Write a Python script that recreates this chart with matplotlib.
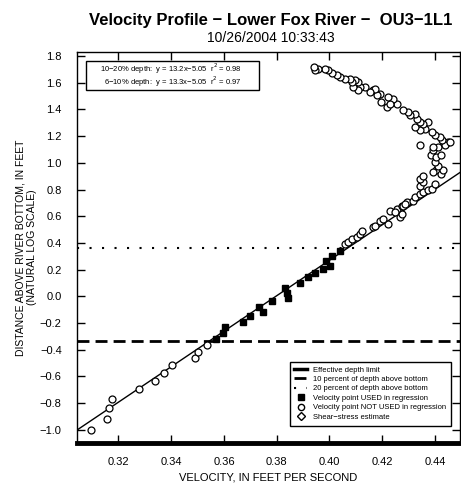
import numpy as np
import matplotlib
matplotlib.use("Agg")
import matplotlib.pyplot as plt
from matplotlib.lines import Line2D
from matplotlib.patches import Rectangle

plt.rcParams['font.family'] = ['Liberation Sans', 'DejaVu Sans']

# velocity points used in the regression (filled squares)
used_v = [0.3569, 0.3598, 0.3604, 0.3671, 0.3699, 0.3731, 0.3749, 0.3784, 0.3832,
          0.3844, 0.3838, 0.3889, 0.3920, 0.3945, 0.3977, 0.3987, 0.4009, 0.4002, 0.4040]
used_y = [-0.318, -0.273, -0.230, -0.190, -0.150, -0.080, -0.115, -0.035, 0.061,
          -0.010, 0.025, 0.103, 0.146, 0.174, 0.204, 0.266, 0.304, 0.229, 0.341]

# velocity points not used in the regression (open circles)
notused_v = [0.3096, 0.3155, 0.3166, 0.3177, 0.3277, 0.3339, 0.3374, 0.3402, 0.3491, 0.3501, 0.3536,
             0.4059, 0.4072, 0.4084, 0.4103, 0.4116, 0.4122, 0.4166, 0.4173, 0.4223, 0.4192, 0.4204,
             0.4267, 0.4274, 0.4230, 0.4255, 0.4274, 0.4293, 0.4250, 0.4280, 0.4286, 0.4318, 0.4324,
             0.4343, 0.4356, 0.4375, 0.4387, 0.4400, 0.4343, 0.4356, 0.4343, 0.4356, 0.4405, 0.4392,
             0.4424, 0.4431, 0.4412, 0.4400, 0.4386, 0.4405, 0.4424, 0.4392, 0.4411, 0.4438, 0.4450,
             0.4343, 0.4392, 0.4438, 0.4457, 0.4425, 0.4419, 0.4400, 0.4387, 0.4362, 0.4343, 0.4324,
             0.4375, 0.4356, 0.4343, 0.4331, 0.4324, 0.4305, 0.4299, 0.4280, 0.4255, 0.4217, 0.4242,
             0.4230, 0.4223, 0.4196, 0.4190, 0.4166,
             0.4179, 0.4173, 0.4154, 0.4135, 0.4116, 0.4109, 0.4091, 0.4109, 0.4097, 0.4084, 0.4078,
             0.4059, 0.4040, 0.4028, 0.4009, 0.3996, 0.3983, 0.3958, 0.3945, 0.3940]
notused_y = [-1.004, -0.920, -0.841, -0.769, -0.698, -0.636, -0.576, -0.518, -0.466, -0.416, -0.363,
             0.392, 0.404, 0.429, 0.441, 0.467, 0.492, 0.517, 0.529, 0.542, 0.567, 0.580,
             0.592, 0.617, 0.642, 0.655, 0.680, 0.705, 0.629, 0.680, 0.692, 0.717, 0.742,
             0.768, 0.780, 0.793, 0.805, 0.843, 0.830, 0.855, 0.880, 0.905, 0.943, 0.930,
             0.918, 0.943, 0.980, 1.006, 1.056, 1.043, 1.056, 1.093, 1.118, 1.143, 1.156,
             1.131, 1.118, 1.131, 1.156, 1.168, 1.193, 1.206, 1.231, 1.256, 1.244, 1.268,
             1.306, 1.294, 1.306, 1.332, 1.369, 1.356, 1.381, 1.394, 1.444, 1.419, 1.482,
             1.444, 1.494, 1.456, 1.519, 1.544,
             1.507, 1.557, 1.532, 1.569, 1.569, 1.544, 1.569, 1.607, 1.620, 1.607, 1.632,
             1.632, 1.644, 1.657, 1.670, 1.695, 1.707, 1.707, 1.695, 1.720]

# regression fit drawn on the chart: (slope, intercept)
fit_line = (13.3, -5.05)

depth_10pct = -0.335
depth_20pct = 0.364
effective_depth = -1.10

xlim = (0.3043, 0.4495)
ylim = (effective_depth, 1.83)

fig = plt.figure(figsize=(4.61, 4.87), dpi=100)
ax = fig.add_axes([0.167, 0.0903, 0.831, 0.8027])

xs = np.array(xlim)
ax.plot(xs, fit_line[0] * xs + fit_line[1], color='black', lw=1)

ax.axhline(depth_10pct, color='black', lw=2, linestyle=(0, (4.3, 2.2)))
ax.axhline(depth_20pct, color='black', lw=1.5, linestyle=(0, (1, 5)))
ax.axhline(effective_depth, color='black', lw=3.5, clip_on=False)

ax.plot(notused_v, notused_y, 'o', mfc='white', mec='black', ms=5, mew=0.9, ls='none')
ax.plot(used_v, used_y, 's', color='black', ms=5, ls='none')

ax.set_xlim(xlim)
ax.set_ylim(ylim)
ax.set_xticks(np.arange(0.32, 0.441, 0.02))
ax.set_yticks(np.arange(-1.0, 1.81, 0.2))
ax.tick_params(direction='in', length=6, width=1, top=True, right=True, labelsize=8)
ax.tick_params(axis='x', pad=10)
ax.tick_params(axis='y', pad=11)
for s in ax.spines.values():
    s.set_linewidth(1)

ax.set_xlabel('VELOCITY, IN FEET PER SECOND', fontsize=8, labelpad=4)
ax.set_ylabel('DISTANCE ABOVE RIVER BOTTOM, IN FEET\n(NATURAL LOG SCALE)', fontsize=7.5)
ax.yaxis.set_label_coords(-0.104, 0.5)

# regression summary box
ax.add_patch(Rectangle((0.023, 0.903), 0.452, 0.075, transform=ax.transAxes,
                       fill=False, ec='black', lw=1))
ax.text(0.431, 0.958, '10\u221220% depth:  y = 13.2x\u22125.05  r$^2$ = 0.98',
        transform=ax.transAxes, ha='right', va='center', fontsize=5.5)
ax.text(0.431, 0.925, '6\u221210% depth:  y = 13.3x\u22125.05  r$^2$ = 0.97',
        transform=ax.transAxes, ha='right', va='center', fontsize=5.5)

handles = [
    Line2D([], [], color='black', lw=2.5),
    Line2D([], [], color='black', lw=2, linestyle=(0, (4.3, 2.2))),
    Line2D([], [], color='black', lw=1.5, linestyle=(0, (1, 5))),
    Line2D([], [], marker='s', color='black', ms=4, ls='none'),
    Line2D([], [], marker='o', mfc='white', mec='black', ms=4.5, mew=1, ls='none'),
    Line2D([], [], marker='D', mfc='white', mec='black', ms=4, mew=1, ls='none'),
]
labels = ['Effective depth limit', '10 percent of depth above bottom',
          '20 percent of depth above bottom', 'Velocity point USED in regression',
          'Velocity point NOT USED in regression', 'Shear\u2212stress estimate']
leg = ax.legend(handles, labels, loc='lower right', bbox_to_anchor=(0.985, 0.035),
                fontsize=5.5, handlelength=1.6, labelspacing=0.28, fancybox=False,
                framealpha=1, edgecolor='black', borderpad=0.6, handletextpad=0.8)
leg.get_frame().set_linewidth(1)

fig.text(0.588, 0.957, 'Velocity Profile \u2212 Lower Fox River \u2212  OU3\u22121L1',
         ha='center', va='center', fontsize=12, fontweight='bold')
fig.text(0.588, 0.922, '10/26/2004 10:33:43', ha='center', va='center', fontsize=10)

fig.savefig('out.png', dpi=100)
